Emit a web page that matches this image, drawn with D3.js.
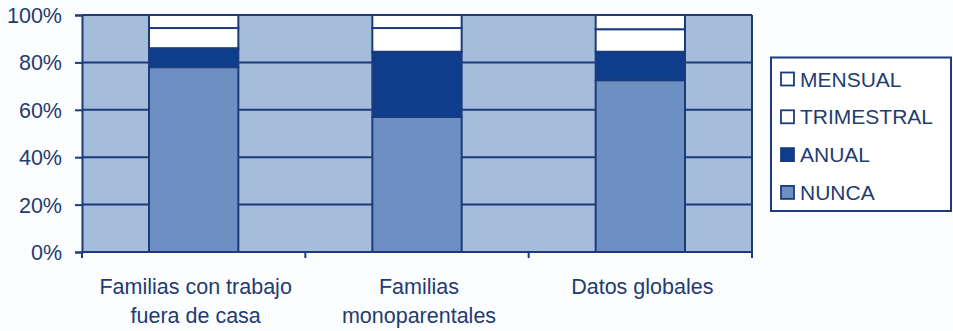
<!DOCTYPE html>
<html>
<head>
<meta charset="utf-8">
<script src="https://cdn.jsdelivr.net/npm/d3@7"></script>
<style>
  html, body { margin: 0; padding: 0; background: #fcfdfe; }
  svg { display: block; font-family: Arial, "Liberation Sans", sans-serif; }
</style>
</head>
<body>
<svg id="chart" width="953" height="331"></svg>
<script>
// Frequency shares (%) per family group, bottom segment first
const categories = ["Familias con trabajo|fuera de casa", "Familias|monoparentales", "Datos globales"];
const seriesNames = ["NUNCA", "ANUAL", "TRIMESTRAL", "MENSUAL"];
const nunca      = [78, 57, 72.5];
const anual      = [8, 27.5, 12];
const trimestral = [8.5, 10, 9.5];
const mensual    = [5.5, 5.5, 6];
const yTicks = [0, 20, 40, 60, 80, 100];
const legendOrder = ["MENSUAL", "TRIMESTRAL", "ANUAL", "NUNCA"];

const colors = {
  NUNCA: "#6d8fc1",
  ANUAL: "#0e3d8c",
  TRIMESTRAL: "#ffffff",
  MENSUAL: "#ffffff"
};
const ink = "#1b3b7c";
const textInk = "#1f3c70";

const rows = categories.map((c, i) => ({
  cat: c, NUNCA: nunca[i], ANUAL: anual[i], TRIMESTRAL: trimestral[i], MENSUAL: mensual[i]
}));
const stacked = d3.stack().keys(seriesNames)(rows);

const svg = d3.select("#chart");
const plot = { left: 82, right: 752, top: 15, bottom: 252 };

const x = d3.scaleBand().domain(categories).range([plot.left, plot.right]).paddingInner(0.6).paddingOuter(0.3);
const y = d3.scaleLinear().domain([0, 100]).range([plot.bottom, plot.top]);

// Plot background
svg.append("rect")
  .attr("x", plot.left).attr("y", plot.top)
  .attr("width", plot.right - plot.left).attr("height", plot.bottom - plot.top)
  .attr("fill", "#a6bcdb");

// Gridlines
svg.append("g").selectAll("line").data(yTicks).join("line")
  .attr("x1", plot.left).attr("x2", plot.right)
  .attr("y1", d => y(d)).attr("y2", d => y(d))
  .attr("stroke", ink).attr("stroke-width", 2);

// Right border of plot area
svg.append("line")
  .attr("x1", plot.right).attr("x2", plot.right)
  .attr("y1", plot.top).attr("y2", plot.bottom)
  .attr("stroke", ink).attr("stroke-width", 2);

// Stacked bars
svg.append("g").selectAll("g").data(stacked).join("g")
  .attr("fill", d => colors[d.key])
  .selectAll("rect").data(d => d).join("rect")
  .attr("x", d => x(d.data.cat))
  .attr("width", x.bandwidth())
  .attr("y", d => y(d[1]))
  .attr("height", d => y(d[0]) - y(d[1]))
  .attr("stroke", ink).attr("stroke-width", 2);

// Y axis
const yAxis = d3.axisLeft(y).tickValues(yTicks).tickFormat(d => d + "%").tickSize(7).tickPadding(13);
const gy = svg.append("g").attr("transform", `translate(${plot.left},0)`).call(yAxis);
gy.select(".domain").attr("stroke", ink).attr("stroke-width", 2);
gy.selectAll(".tick line").attr("stroke", ink).attr("stroke-width", 2);
gy.selectAll(".tick text").attr("fill", textInk).attr("font-size", 21.5).attr("dy", "0.35em");

// X axis: tick marks sit on the category boundaries
const gx = svg.append("g").attr("transform", `translate(0,${plot.bottom})`);
gx.append("line").attr("x1", plot.left).attr("x2", plot.right).attr("stroke", ink).attr("stroke-width", 2);
const step = x.step();
const boundaries = d3.range(categories.length + 1).map(i => plot.left + i * (plot.right - plot.left) / categories.length);
gx.selectAll("line.tk").data(boundaries).join("line").attr("class", "tk")
  .attr("x1", d => d).attr("x2", d => d).attr("y1", 0).attr("y2", 6)
  .attr("stroke", ink).attr("stroke-width", 2);

// Category labels
svg.append("g").selectAll("text").data(categories).join("text")
  .attr("x", d => x(d) + x.bandwidth() / 2 + 2)
  .attr("y", 294)
  .attr("text-anchor", "middle")
  .attr("fill", textInk)
  .attr("font-size", 21.5)
  .each(function (d) {
    const lines = d.split("|");
    d3.select(this).selectAll("tspan").data(lines).join("tspan")
      .attr("x", x(d) + x.bandwidth() / 2 + 2)
      .attr("dy", (l, i) => i === 0 ? 0 : 29)
      .text(l => l);
  });

// Legend
const lg = svg.append("g");
lg.append("rect").attr("x", 771).attr("y", 57.5).attr("width", 180).attr("height", 153.5)
  .attr("fill", "#ffffff").attr("stroke", ink).attr("stroke-width", 2);
const item = lg.selectAll("g.item").data(legendOrder).join("g").attr("class", "item")
  .attr("transform", (d, i) => `translate(781,${79 + i * 37.8})`);
item.append("rect").attr("x", 0).attr("y", -6.5).attr("width", 13).attr("height", 13)
  .attr("fill", d => colors[d]).attr("stroke", ink).attr("stroke-width", 1.8);
item.append("text").attr("x", 19).attr("y", 0).attr("dy", "0.36em")
  .attr("fill", textInk).attr("font-size", 21).text(d => d);
</script>
</body>
</html>
